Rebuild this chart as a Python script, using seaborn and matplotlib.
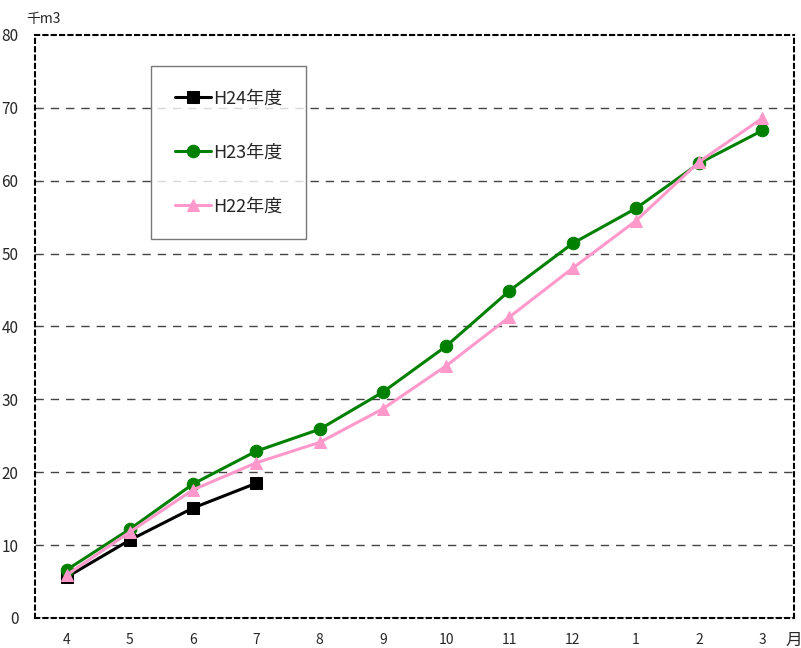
import pandas as pd
import matplotlib
matplotlib.use("Agg")
import matplotlib.pyplot as plt
import numpy as np
import seaborn as sns

# %%
months = ["4", "5", "6", "7", "8", "9", "10", "11", "12", "1", "2", "3"]
h24 = [5.6, 10.7, 15.1, 18.5]
h23 = [6.6, 12.2, 18.4, 22.9, 25.9, 31.0, 37.3, 44.9, 51.4, 56.2, 62.4, 66.9]
h22 = [5.9, 11.8, 17.6, 21.3, 24.1, 28.7, 34.6, 41.3, 48.0, 54.5, 62.6, 68.6]

sns.set_style("white")
plt.rcParams['font.family'] = ['Noto Sans CJK JP', 'DejaVu Sans']

rows = []
for name, vals in [("H24年度", h24), ("H23年度", h23), ("H22年度", h22)]:
    for i, v in enumerate(vals):
        rows.append({"series": name, "pos": i, "month": months[i], "value": v})
df = pd.DataFrame(rows)

fig = plt.figure(figsize=(8.01, 6.48), dpi=100)
ax = fig.add_axes([0.0437, 0.0463, 0.9476, 0.8997])

styles = {
    "H24年度": dict(color="black", marker="s", markersize=9),
    "H23年度": dict(color="#008000", marker="o", markersize=9),
    "H22年度": dict(color="#ff99cc", marker="^", markersize=9),
}
for name in ["H24年度", "H23年度", "H22年度"]:
    sub = df[df["series"] == name]
    st = styles[name]
    sns.lineplot(data=sub, x="pos", y="value", ax=ax, label=name,
                 color=st["color"], marker=st["marker"], markersize=st["markersize"],
                 markeredgecolor=st["color"], linewidth=2.2)

ax.set_xlim(-0.5, 11.5)
ax.set_ylim(0, 80)
ax.set_yticks(range(0, 81, 10))
ax.set_xticks(range(12))
ax.set_xticklabels(months, fontsize=10)
ax.set_xticks(np.arange(0.5, 11.5, 1), minor=True)
ax.tick_params(axis="x", which="major", length=0, pad=11)
ax.tick_params(axis="x", which="minor", length=5, direction="in", width=1, color="black")
ax.tick_params(axis="y", length=0, pad=12, labelsize=11)
ax.set_xlabel("")
ax.set_ylabel("")

ax.grid(False)
for y in range(10, 80, 10):
    ax.axhline(y, color="#444444", linestyle=(0, (6, 5)), linewidth=1, zorder=0)

for s in ["top", "right", "left", "bottom"]:
    ax.spines[s].set_visible(True)
    ax.spines[s].set_color("black")
    ax.spines[s].set_linewidth(1.5)
    ax.spines[s].set_linestyle((0, (2, 2)))
ax.axhline(0, color="black", linewidth=1, zorder=1)

ax.text(-0.012, 1.015, "千m3", transform=ax.transAxes, fontsize=10, ha="left", va="bottom")
ax.text(1.0, -0.038, "月", transform=ax.transAxes, fontsize=12, ha="center", va="center")

leg = ax.legend(loc="upper left", bbox_to_anchor=(0.153, 0.947), frameon=True,
                fancybox=False, edgecolor="#555555", fontsize=13, labelspacing=2.0,
                borderpad=1.3, handlelength=2.0, handletextpad=0.15, borderaxespad=0)
leg.get_frame().set_linewidth(1)

plt.savefig("out.png", dpi=100)
